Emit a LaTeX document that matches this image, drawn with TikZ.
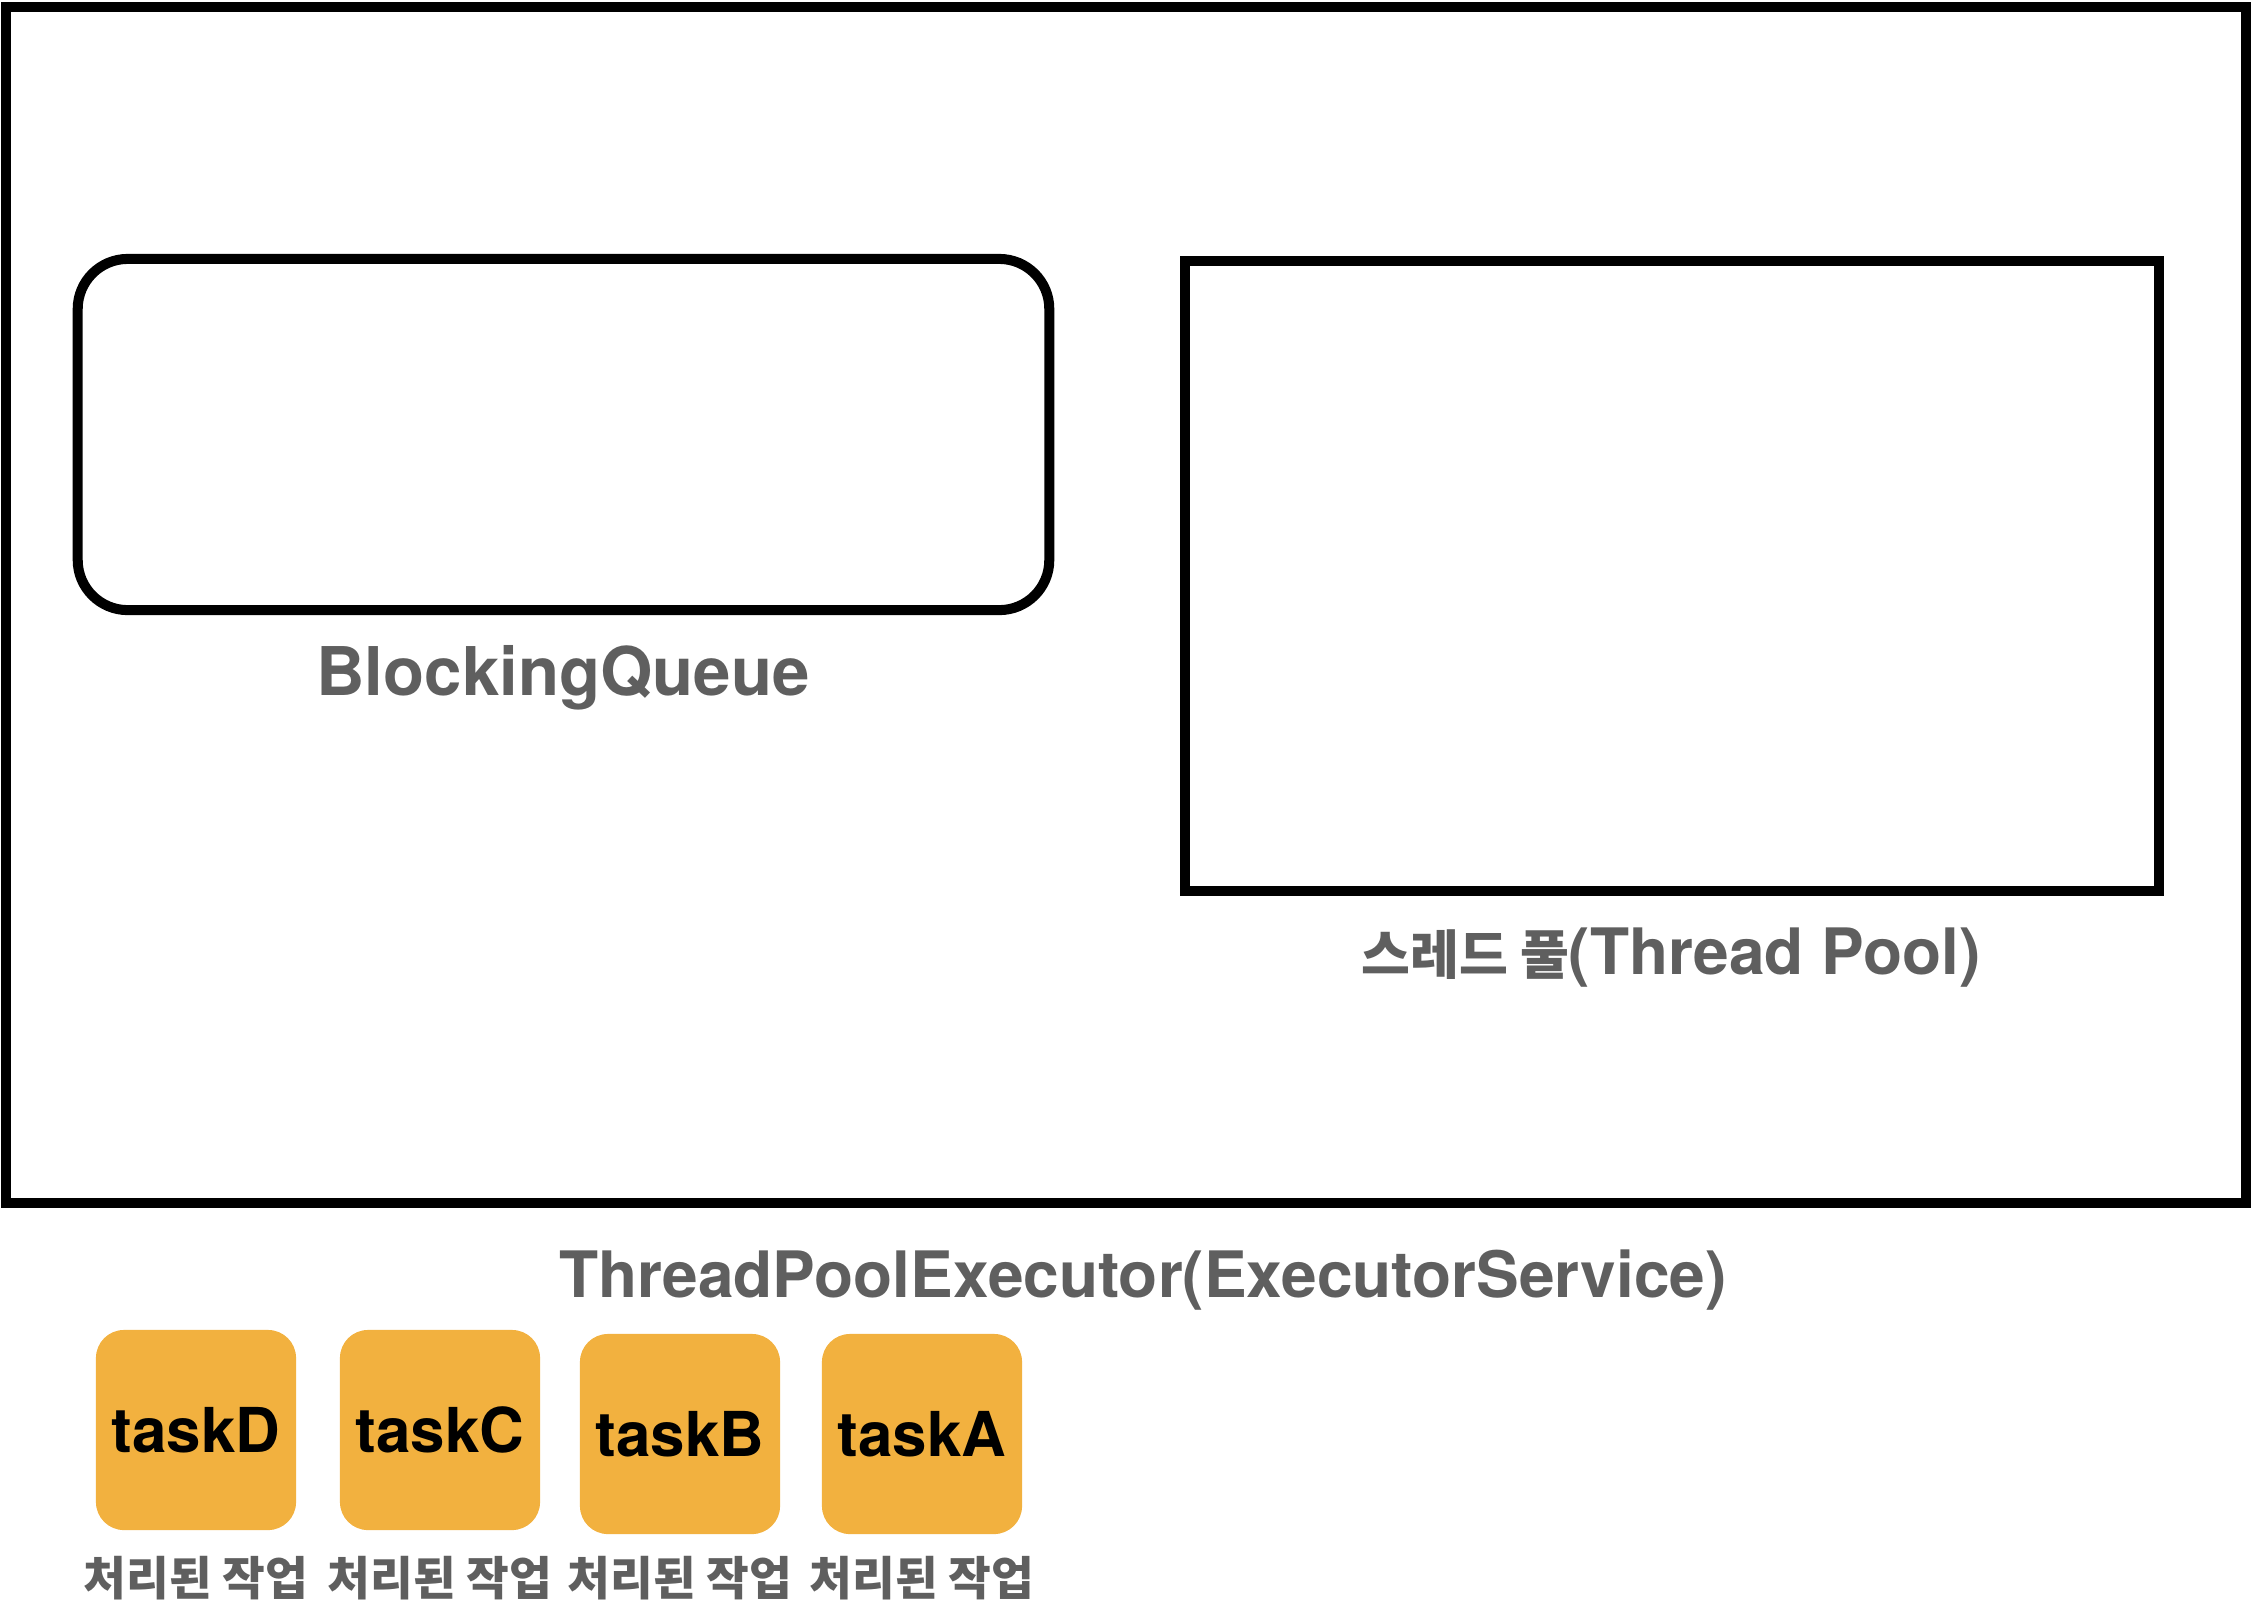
\documentclass[tikz,border=0pt]{standalone}
\usepackage{fontspec}
\setmainfont{TeX Gyre Heros}
\newfontfamily\krfont{Noto Sans CJK KR}
\usepackage{xcolor}
\usepackage{tikz}
\usetikzlibrary{positioning}
\definecolor{labelgray}{RGB}{95,95,95}
\definecolor{taskorange}{RGB}{242,177,63}

\begin{document}
\begin{tikzpicture}[x=0.01cm, y=-0.01cm,
    box/.style={draw=black, line width=2.85pt, inner sep=0pt},
    caption/.style={text=labelgray, anchor=base,
      font=\bfseries\fontsize{18.2}{22}\selectfont},
    task/.style={fill=taskorange, rounded corners=0.28cm,
      minimum width=2cm, minimum height=2cm, inner sep=0pt,
      font=\bfseries\fontsize{17.6}{22}\selectfont},
    done/.style={text=labelgray,
      font=\krfont\bfseries\fontsize{13.2}{16}\selectfont}]
  \useasboundingbox (0,0) rectangle (2252,1620);

  % Executor
  \node[box, minimum width=22.38cm, minimum height=11.96cm]
    (executor) at (1126,605) {};
  \node[caption] (executorlabel) at (1143,1297)
    {ThreadPoolExecutor(ExecutorService)};

  % Queue
  \node[box, rounded corners=0.5cm, minimum width=9.71cm,
    minimum height=3.51cm] (queue) at (563.5,434.5) {};
  \node[caption, font=\bfseries\fontsize{19.1}{22}\selectfont]
    (queuelabel) at (563,695) {BlockingQueue};

  % Pool
  \node[box, minimum width=9.74cm, minimum height=6.30cm]
    (pool) at (1672,576) {};
  \node[caption] (poollabel) at (1671,974)
    {{\krfont\fontsize{15.1}{22}\selectfont 스레드 풀}(Thread Pool)};

  % Tasks
  \foreach \name/\x/\y in {D/196/1430, C/440/1430, B/680/1434, A/922/1434}{
    \node[task] (task\name) at (\x,\y) {task\name};
    \node[done] (done\name) at (\x,1578) {처리된 작업};
  }
\end{tikzpicture}
\end{document}
